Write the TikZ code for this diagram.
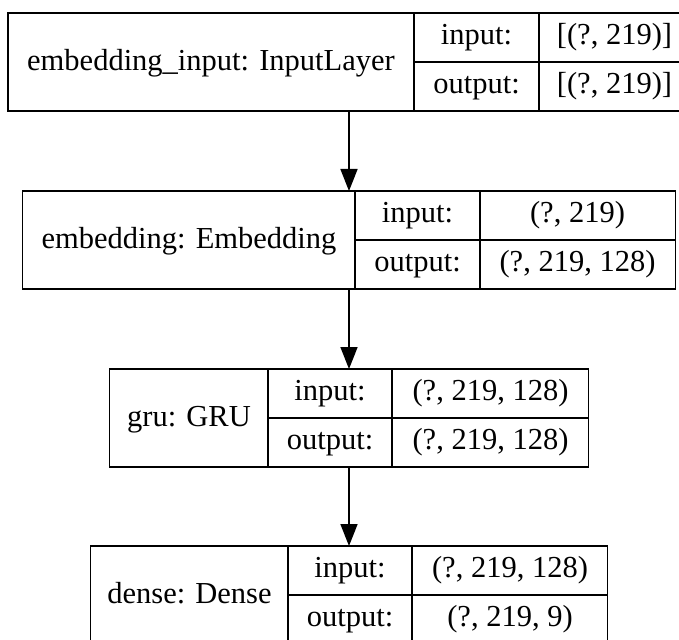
\documentclass[tikz,border=0pt]{standalone}
\usepackage{fontspec}
\setmainfont{Liberation Serif}
\usetikzlibrary{arrows.meta}
\begin{document}
\begin{tikzpicture}[x=1pt,y=-1pt,
  layerbox/.style={draw, line width=1.7pt, inner sep=0pt, outer sep=0pt, minimum height=98pt},
  cellline/.style={line width=1.7pt},
  celltext/.style={inner sep=0pt, font=\fontsize{30.5pt}{36pt}\selectfont, text height=0.69em, text depth=0.2em, yshift=-5pt},
  nametext/.style={celltext, yshift=-1pt},
  flow/.style={line width=1.7pt, -{Triangle[length=22pt,width=17pt]}}]
\useasboundingbox (0,0) rectangle (679,639);
\clip (0,0) rectangle (679,639);

% embedding_input
\node[layerbox, minimum width=682pt] (l1) at (349,62) {};
\draw[cellline] (414,13) -- (414,111) (539,13) -- (539,111) (414,62) -- (690,62);
\node[nametext] (l1name) at (211,62) {embedding\_input: InputLayer};
\node[celltext] (l1in) at (476.5,37.5) {input:};
\node[celltext] (l1inv) at (614.5,37.5) {[(?, 219)]};
\node[celltext] (l1out) at (476.5,86.5) {output:};
\node[celltext] (l1outv) at (614.5,86.5) {[(?, 219)]};

% embedding
\node[layerbox, minimum width=653pt] (l2) at (349,240) {};
\draw[cellline] (355,191) -- (355,289) (480,191) -- (480,289) (355,240) -- (675.5,240);
\node[nametext] (l2name) at (189,240) {embedding: Embedding};
\node[celltext] (l2in) at (417.5,215.5) {input:};
\node[celltext] (l2inv) at (577.5,215.5) {(?, 219)};
\node[celltext] (l2out) at (417.5,264.5) {output:};
\node[celltext] (l2outv) at (577.5,264.5) {(?, 219, 128)};

% gru
\node[layerbox, minimum width=479pt] (l3) at (349,418) {};
\draw[cellline] (268,369) -- (268,467) (392,369) -- (392,467) (268,418) -- (588.5,418);
\node[nametext] (l3name) at (189,418) {gru: GRU};
\node[celltext] (l3in) at (330,393.5) {input:};
\node[celltext] (l3inv) at (490.5,393.5) {(?, 219, 128)};
\node[celltext] (l3out) at (330,442.5) {output:};
\node[celltext] (l3outv) at (490.5,442.5) {(?, 219, 128)};

% dense
\node[layerbox, minimum width=517pt] (l4) at (349,595) {};
\draw[cellline] (288,546) -- (288,644) (412,546) -- (412,644) (288,595) -- (607.5,595);
\node[nametext] (l4name) at (189.5,595) {dense: Dense};
\node[celltext] (l4in) at (350,570.5) {input:};
\node[celltext] (l4inv) at (510,570.5) {(?, 219, 128)};
\node[celltext] (l4out) at (350,619.5) {output:};
\node[celltext] (l4outv) at (510,619.5) {(?, 219, 9)};

% data flow
\draw[flow] (l1) -- (l2);
\draw[flow] (l2) -- (l3);
\draw[flow] (l3) -- (l4);
\end{tikzpicture}
\end{document}
